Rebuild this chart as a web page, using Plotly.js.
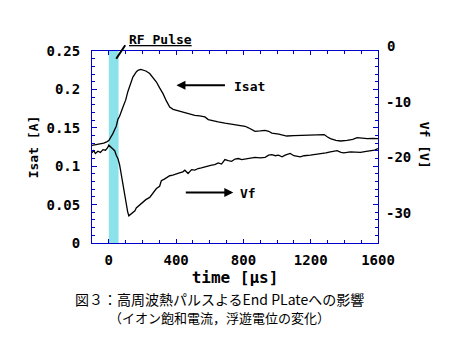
<!DOCTYPE html>
<html>
<head>
<meta charset="utf-8">
<script src="https://cdn.plot.ly/plotly-3.0.1.min.js"></script>
<style>html,body{margin:0;padding:0;background:#fff;}#chart{width:451px;height:337px;}</style>
</head>
<body>
<div id="chart"></div>
<script>
// Isat (left axis) – time in µs, current in A
const tIsat = [-100,-60,-30,-10,0,24,44,54,64,84,100,113,130,143,163,173,190,203,220,243,263,283,302,322,342,362,382,402,430,452,480,511,540,571,591,620,650,690,730,770,810,830,850,869,900,929,950,969,1010,1048,1058,1100,1138,1200,1257,1280,1300,1317,1350,1377,1416,1450,1476,1500,1536,1570,1600];
const isat = [0.127,0.129,0.130,0.132,0.1335,0.1424,0.152,0.161,0.165,0.177,0.186,0.197,0.208,0.216,0.2227,0.2249,0.226,0.2255,0.224,0.2206,0.215,0.2096,0.202,0.1945,0.185,0.177,0.174,0.1728,0.1715,0.1693,0.168,0.1663,0.1655,0.1641,0.1607,0.159,0.1576,0.156,0.1546,0.1535,0.152,0.150,0.1477,0.1454,0.146,0.1467,0.1455,0.1432,0.1418,0.1406,0.1393,0.1398,0.1402,0.1405,0.1415,0.1412,0.138,0.1359,0.1335,0.1328,0.1337,0.135,0.1372,0.1365,0.136,0.1362,0.136];

// Vf (right axis) – floating potential in V
const tVf = [-100,-90,-80,-65,-50,-35,-20,-8,0,10,25,35,44,54,64,74,84,94,104,112,119,130,143,155,163,183,200,220,243,262,283,302,312,330,345,362,380,402,420,440,452,471,492,511,531,550,571,590,611,630,650,670,690,710,730,750,770,790,810,840,869,900,929,950,969,990,1008,1030,1048,1078,1100,1138,1160,1198,1230,1257,1290,1317,1357,1380,1397,1436,1470,1496,1530,1556,1580,1600];
const vf = [-19.2,-18.7,-19.3,-18.9,-19.1,-18.6,-18.7,-18.3,-17.8,-18.1,-18.5,-18.8,-19.6,-20.2,-21.3,-23.2,-25.3,-27.2,-28.6,-29.8,-30.5,-30.2,-29.9,-29.6,-29.1,-28.6,-28.2,-27.6,-27.2,-26.4,-25.6,-25.2,-24.2,-23.9,-23.6,-23.3,-23.2,-22.9,-22.8,-22.6,-22.3,-22.9,-22.2,-22.3,-22.0,-21.9,-21.7,-21.6,-21.4,-21.3,-21.0,-21.2,-20.4,-20.6,-20.7,-20.3,-20.2,-20.4,-20.3,-20.1,-20.0,-20.1,-20.0,-19.6,-19.5,-19.7,-19.6,-19.9,-19.6,-19.3,-19.7,-19.9,-19.7,-19.6,-19.5,-19.3,-19.2,-19.0,-18.8,-19.1,-19.2,-19.0,-19.1,-19.1,-18.9,-18.8,-18.7,-18.4];

// RF pulse interval (µs)
const rfPulse = [0, 58];

// tick labels
const xTicks = [0, 400, 800, 1200, 1600];
const yTicks = [0, 0.05, 0.1, 0.15, 0.2, 0.25];
const yTickText = ['0', '0.05', '0.1', '0.15', '0.2', '0.25'];
const y2Ticks = [-10, -20, -30];
const y2TickText = ['-10', '-20', '-30'];

// caption lines
const caption1 = '図３：高周波熱パルスよるEnd PLateへの影響';
const caption2 = '（イオン飽和電流，浮遊電位の変化）';

const blue = '#0000cc';
const mono = 'DejaVu Sans Mono, monospace';
const jp = 'Noto Sans CJK JP, sans-serif';
const tickFont = {family: mono, size: 14, color: '#000', weight: 'bold'};

const traces = [
  {x: tIsat, y: isat, type: 'scatter', mode: 'lines', line: {color: '#000', width: 1.3}, yaxis: 'y', hoverinfo: 'skip'},
  {x: tVf, y: vf, type: 'scatter', mode: 'lines', line: {color: '#000', width: 1.3}, yaxis: 'y2', hoverinfo: 'skip'}
];

const layout = {
  width: 451, height: 337,
  margin: {l: 92, r: 73, t: 51, b: 94},
  paper_bgcolor: '#fff', plot_bgcolor: '#fff',
  showlegend: false,
  xaxis: {
    range: [-100, 1600], tickvals: xTicks, ticktext: xTicks.map(String),
    showgrid: false, zeroline: false, showline: true, linecolor: blue, linewidth: 1,
    mirror: 'ticks', ticks: 'inside', ticklen: 4, tickcolor: blue, tickwidth: 1,
    minor: {dtick: 100, tick0: 0, ticks: 'inside', ticklen: 3, tickcolor: blue, showgrid: false},
    tickfont: tickFont, ticklabelstandoff: 4,
    title: {text: 'time [μs]', font: {family: mono, size: 16, color: '#000', weight: 'bold'}, standoff: 4}
  },
  yaxis: {
    range: [0, 0.25], tickvals: yTicks, ticktext: yTickText,
    showgrid: false, zeroline: false, showline: true, linecolor: blue, linewidth: 1,
    mirror: 'ticks', ticks: 'inside', ticklen: 5, tickcolor: blue, tickwidth: 1,
    minor: {dtick: 0.01, tick0: 0, ticks: 'inside', ticklen: 3, tickcolor: blue, showgrid: false},
    tickfont: tickFont, ticklabelstandoff: 8,
    title: {text: 'Isat [A]', font: {family: mono, size: 13, color: '#000', weight: 'bold'}, standoff: 4}
  },
  yaxis2: {
    overlaying: 'y', side: 'right', range: [-35.4, -0.86],
    tickvals: y2Ticks, ticktext: y2TickText,
    showgrid: false, zeroline: false, showline: false, ticks: '',
    tickfont: tickFont, ticklabelstandoff: 7
  },
  shapes: [
    {type: 'rect', xref: 'x', yref: 'paper', x0: rfPulse[0], x1: rfPulse[1], y0: 0, y1: 1,
     fillcolor: '#8ce2ea', line: {width: 0}, layer: 'below'}
  ],
  annotations: [
    // right axis "0" label (sits just above the frame)
    {xref: 'paper', yref: 'paper', x: 1, y: 1.025, xanchor: 'left', yanchor: 'middle', xshift: 7,
     text: '0', showarrow: false, font: tickFont},
    // right axis title
    {xref: 'paper', yref: 'paper', x: 1.163, y: 0.509, textangle: 90, xanchor: 'center', yanchor: 'middle',
     text: 'Vf [V]', showarrow: false, font: {family: mono, size: 13, color: '#000', weight: 'bold'}},
    // RF Pulse label and pointer
    {xref: 'paper', yref: 'paper', x: 0.238, y: 1.061, xanchor: 'center', yanchor: 'middle',
     text: '<u>RF Pulse</u>', showarrow: false, font: {family: mono, size: 13, color: '#000', weight: 'bold'}},
    {xref: 'x', yref: 'y', x: 44, y: 0.240, text: '', showarrow: true, arrowhead: 0, arrowwidth: 2,
     arrowcolor: '#000', ax: 10, ay: -15, standoff: 0},
    // Isat label + arrow
    {xref: 'x', yref: 'y', x: 834, y: 0.204, text: 'Isat', showarrow: false,
     font: {family: mono, size: 13, color: '#000', weight: 'bold'}},
    {xref: 'x', yref: 'y', x: 402, y: 0.2053, text: '', showarrow: true, arrowhead: 2, arrowsize: 0.9,
     arrowwidth: 2, arrowcolor: '#000', ax: 50, ay: 0, standoff: 0},
    // Vf label + arrow
    {xref: 'x', yref: 'y', x: 828, y: 0.0643, text: 'Vf', showarrow: false,
     font: {family: mono, size: 13, color: '#000', weight: 'bold'}},
    {xref: 'x', yref: 'y', x: 740, y: 0.0656, text: '', showarrow: true, arrowhead: 2, arrowsize: 0.9,
     arrowwidth: 2, arrowcolor: '#000', ax: -49, ay: 0, standoff: 0},
    // caption (two lines in one text block)
    {xref: 'paper', yref: 'paper', x: 0.447, y: -0.336, xanchor: 'center', yanchor: 'middle', align: 'center',
     text: caption1 + '<br><span style="font-size:13px">' + caption2 + '</span>', showarrow: false,
     font: {family: jp, size: 14, color: '#000'}}
  ]
};

Plotly.newPlot('chart', traces, layout, {staticPlot: true, displayModeBar: false});
</script>
</body>
</html>
